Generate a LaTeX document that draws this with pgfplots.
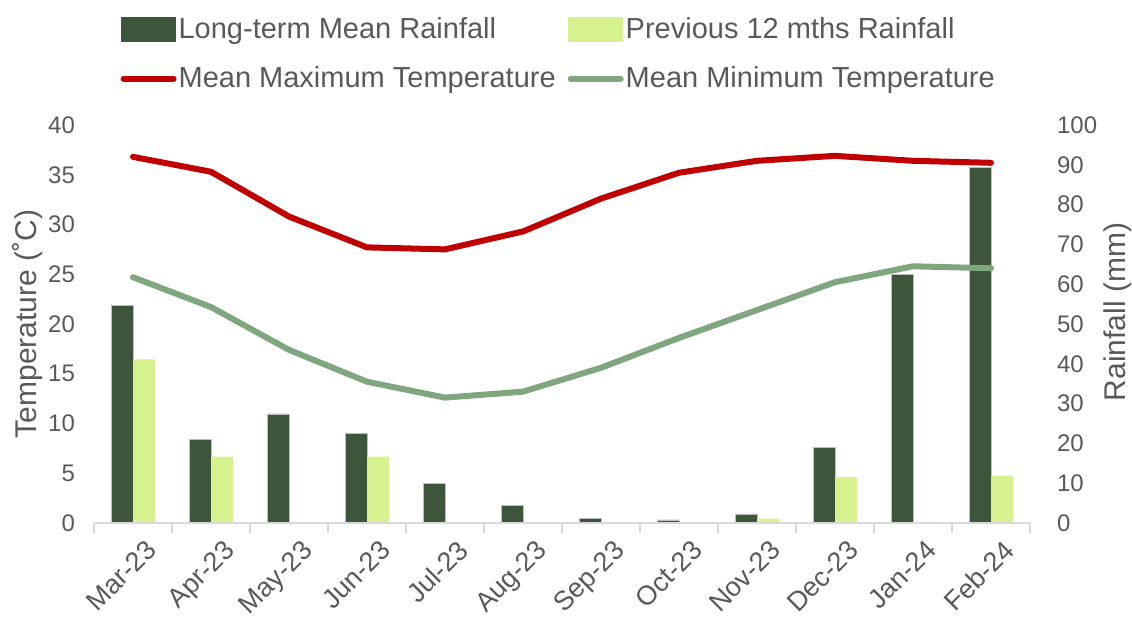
\documentclass[border=0pt]{standalone}
\usepackage{pgfplots}
\pgfplotsset{compat=1.18}
\usepackage{fontspec}
\setmainfont{Liberation Sans}

\definecolor{ltdark}{HTML}{3D553B}
\definecolor{prevlight}{HTML}{D6F28E}
\definecolor{tmax}{HTML}{C00000}
\definecolor{tmin}{HTML}{7FA67F}
\definecolor{txt}{HTML}{595959}
\definecolor{axgray}{HTML}{D9D9D9}

\newcommand{\tickfont}{\fontsize{12}{14}\selectfont}
\newcommand{\monthfont}{\fontsize{13.5}{16}\selectfont}
\newcommand{\labfont}{\fontsize{14.5}{17}\selectfont}
\newcommand{\axlabfont}{\fontsize{15}{18}\selectfont}

\begin{document}
\begin{tikzpicture}
\useasboundingbox (0,0) rectangle (566pt,310.5pt);

% Rainfall bars on the right-hand axis
\begin{axis}[
  at={(47pt,49pt)}, anchor=south west,
  scale only axis, width=468pt, height=199pt,
  xmin=-0.5, xmax=11.5,
  ymin=0, ymax=100,
  axis x line=none,
  axis y line*=right,
  y axis line style={draw=none},
  ytick={0,10,...,100},
  major tick length=0pt,
  /pgf/number format/assume math mode=true,
  yticklabel style={font=\tickfont, text=txt, anchor=west, xshift=10pt},
  ylabel={Rainfall (mm)},
  ylabel style={font=\axlabfont, text=txt, inner sep=0pt, xshift=6pt},
  ybar=0pt, bar width=11pt,
]
\addplot[fill=ltdark, draw=white!75!black, line width=0.3pt] coordinates {
  (0,54.7) (1,21.1) (2,27.4) (3,22.6) (4,10.0) (5,4.4)
  (6,1.1) (7,0.8) (8,2.3) (9,18.9) (10,62.4) (11,89.3)};
\addplot[fill=prevlight, draw=none] coordinates {
  (0,41.1) (1,16.7) (2,0) (3,16.7) (4,0) (5,0)
  (6,0) (7,0) (8,1.1) (9,11.6) (10,0.3) (11,11.9)};
\end{axis}

% Temperature lines on the left-hand axis
\begin{axis}[
  at={(47pt,49pt)}, anchor=south west,
  scale only axis, width=468pt, height=199pt,
  xmin=-0.5, xmax=11.5,
  ymin=0, ymax=40,
  axis x line*=bottom,
  axis y line*=left,
  y axis line style={draw=none},
  x axis line style={draw=axgray, line width=1pt, -},
  ytick={0,5,...,40},
  xtick={0,...,11},
  xticklabels={Mar-23,Apr-23,May-23,Jun-23,Jul-23,Aug-23,Sep-23,Oct-23,Nov-23,Dec-23,Jan-24,Feb-24},
  major tick length=0pt,
  extra x ticks={-0.5,0.5,...,11.5},
  extra x tick labels={},
  extra x tick style={major tick length=5pt, tick align=outside, tick style={draw=axgray, line width=1pt}},
  /pgf/number format/assume math mode=true,
  yticklabel style={font=\tickfont, text=txt, xshift=-6pt},
  xticklabel style={font=\monthfont, text=txt, rotate=45, anchor=north east, yshift=-6pt, xshift=2pt},
  ylabel={Temperature (˚C)},
  ylabel style={font=\axlabfont, text=txt, yshift=-4pt},
  legend columns=2,
  legend cell align=left,
  legend style={at={(axis description cs:0.028,1.276)}, anchor=north west,
    draw=none, fill=none, inner sep=0pt, font=\labfont, text=txt,
    row sep=10.5pt,
    /tikz/every even column/.append style={column sep=5pt},
    nodes={inner sep=1pt}},
]
\addlegendimage{legend image code/.code={\fill[ltdark] (0pt,-6pt) rectangle (27pt,6pt);}}
\addlegendentry{Long-term Mean Rainfall}
\addlegendimage{legend image code/.code={\fill[prevlight] (0pt,-6pt) rectangle (27pt,6pt);}}
\addlegendentry{Previous 12 mths Rainfall}
\addplot[tmax, line width=3pt, line cap=round, line join=round,
  legend image code/.code={\draw[tmax, line width=3pt, line cap=round] (1pt,0pt) -- (26pt,0pt);}]
  coordinates {
  (0,36.8) (1,35.3) (2,30.8) (3,27.7) (4,27.5) (5,29.3)
  (6,32.6) (7,35.2) (8,36.4) (9,36.9) (10,36.4) (11,36.2)};
\addlegendentry{Mean Maximum Temperature}
\addplot[tmin, line width=3pt, line cap=round, line join=round,
  legend image code/.code={\draw[tmin, line width=3pt, line cap=round] (1pt,0pt) -- (26pt,0pt);}]
  coordinates {
  (0,24.7) (1,21.7) (2,17.4) (3,14.2) (4,12.6) (5,13.2)
  (6,15.6) (7,18.6) (8,21.4) (9,24.2) (10,25.8) (11,25.6)};
\addlegendentry{Mean Minimum Temperature}
\end{axis}
\end{tikzpicture}
\end{document}
